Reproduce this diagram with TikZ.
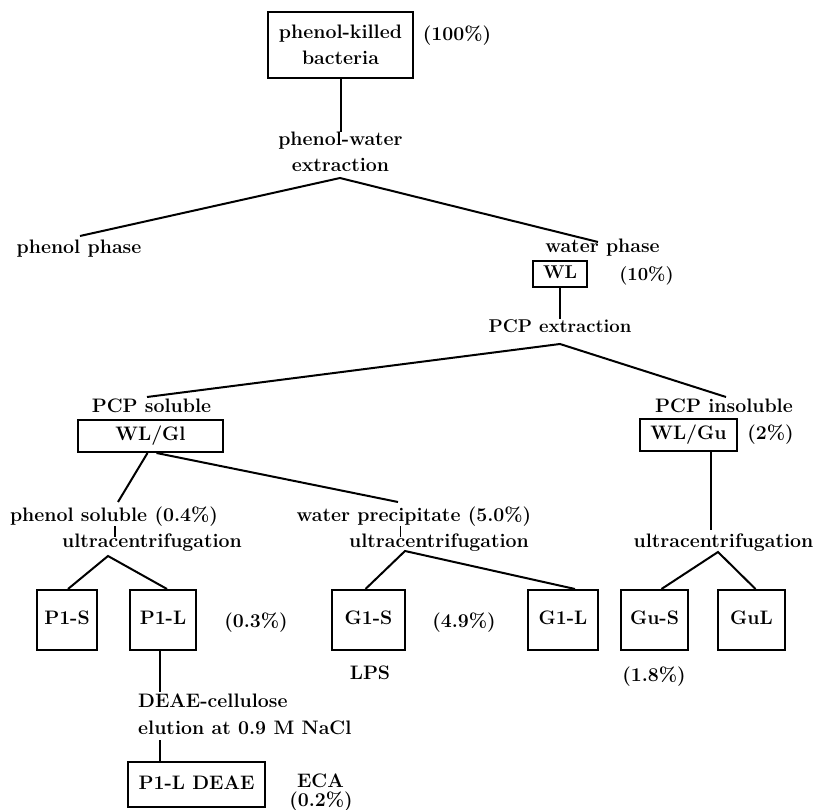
\documentclass[tikz,border=0pt]{standalone}
\usepackage{tikz}
\tikzset{
  bf/.style={font=\fontsize{19.5}{25}\selectfont\bfseries, inner sep=0pt, text height=13.5pt, text depth=4pt},
  rm/.style={font=\fontsize{18.5}{25}\selectfont\bfseries, inner sep=0pt, text height=13.5pt, text depth=4pt},
  ml/.style={font=\fontsize{19.5}{26}\selectfont\bfseries, inner sep=0pt, align=center},
  bx/.style={draw, line width=2pt},
  conn/.style={line width=2pt},
}
\begin{document}
\begin{tikzpicture}[x=1pt,y=-1pt]
\useasboundingbox (0,0) rectangle (820,810);
% top
\node[bx,ml,minimum width=145pt,minimum height=66pt] (top) at (340.5,45) {phenol-killed\\bacteria};
\node[bf] (p100) at (457,36) {(100\%)};
\node[ml] (pw) at (340.5,152) {phenol-water\\extraction};
\coordinate (a1) at (340,178);
\coordinate (l1) at (80,236);
\coordinate (r1) at (598,242);
\draw[conn] (top.south) -- (pw.north);
\draw[conn] (l1) -- (a1) -- (r1);
% phases
\node[bf] (phph) at (79,249) {phenol phase};
\node[bf] (wph) at (602.5,248) {water phase};
\node[bx,rm,minimum width=54pt,minimum height=26pt,inner sep=0pt] (wl) at (560,274) {WL};
\node[rm] (p10) at (646.5,276) {(10\%)};
\node[rm] (pcpe) at (560,328) {PCP extraction};
\draw[conn] (wl.south) -- (pcpe.north);
\coordinate (a2) at (560,344);
\coordinate (l2) at (147,397);
\coordinate (r2) at (726,397);
\draw[conn] (l2) -- (a2) -- (r2);
% PCP soluble / insoluble
\node[bf] (pcps) at (151.5,408) {PCP soluble};
\node[bx,bf,minimum width=145pt,minimum height=32pt] (wlgl) at (150.5,436) {WL/Gl};
\node[bf] (pcpi) at (724,408) {PCP insoluble};
\node[bx,bf,minimum width=97pt,minimum height=32pt] (wlgu) at (688.5,435) {WL/Gu};
\node[bf] (p2) at (770.5,435) {(2\%)};
% fractions
\node[bf] (phsol) at (114,517) {phenol soluble (0.4\%)};
\node[bf] (uc1) at (152,543) {ultracentrifugation};
\node[bf] (wprec) at (414,517) {water precipitate (5.0\%)};
\node[bf] (uc2) at (439,543) {ultracentrifugation};
\node[bf] (uc3) at (723.5,543) {ultracentrifugation};
\coordinate (e1) at (118,502);
\coordinate (e2) at (398,502);
\coordinate (e3) at (711,530);
\draw[conn] ([xshift=-3pt]wlgl.south) -- (e1);
\draw[conn] ([xshift=6pt]wlgl.south) -- (e2);
\draw[conn] (wlgu.south -| e3) -- (e3);
\coordinate (t1a) at (115,526);
\coordinate (t1b) at (115,537);
\coordinate (t2a) at (400.5,526);
\coordinate (t2b) at (400.5,537);
\draw[line width=1.2pt] (t1a) -- (t1b);
\draw[line width=1.2pt] (t2a) -- (t2b);
% boxes
\node[bx,bf,minimum width=60pt,minimum height=60pt] (p1s) at (67,620) {P1-S};
\node[bx,bf,minimum width=66pt,minimum height=60pt] (p1l) at (163,620) {P1-L};
\node[bx,bf,minimum width=73pt,minimum height=60pt] (g1s) at (368.5,620) {G1-S};
\node[bx,bf,minimum width=70pt,minimum height=60pt] (g1l) at (563,620) {G1-L};
\node[bx,bf,minimum width=67pt,minimum height=60pt] (gus) at (654.5,620) {Gu-S};
\node[bx,bf,minimum width=67pt,minimum height=60pt] (gul) at (751.5,620) {GuL};
\coordinate (u1) at (108,556);
\coordinate (u2) at (405,551);
\coordinate (u3) at (718,552);
\draw[conn] ([xshift=1pt]p1s.north) -- (u1) -- ([xshift=4pt]p1l.north);
\draw[conn] ([xshift=-3pt]g1s.north) -- (u2) -- ([xshift=12pt]g1l.north);
\draw[conn] ([xshift=7pt]gus.north) -- (u3) -- ([xshift=4pt]gul.north);
% labels
\node[bf] (p03) at (256,623) {(0.3\%)};
\node[bf] (p49) at (464,623) {(4.9\%)};
\node[bf] (lps) at (370,675) {LPS};
\node[bf] (p18) at (654,677) {(1.8\%)};
% DEAE
\node[font=\fontsize{19.5}{27}\selectfont\bfseries, inner sep=0pt, align=left, anchor=north west] (deae) at (138,694) {DEAE-cellulose\\elution at 0.9 M NaCl};
\coordinate (d1) at (160,692);
\coordinate (d2) at (160,740);
\draw[conn] (p1l.south -| d1) -- (d1);
\node[bx,bf,minimum width=137pt,minimum height=45pt] (p1ld) at (196.5,784.5) {P1-L DEAE};
\draw[conn] (d2) -- (p1ld.north -| d2);
\node[bf] (eca) at (320.5,783) {ECA};
\node[bf] (p02) at (321,802) {(0.2\%)};
\end{tikzpicture}
\end{document}
